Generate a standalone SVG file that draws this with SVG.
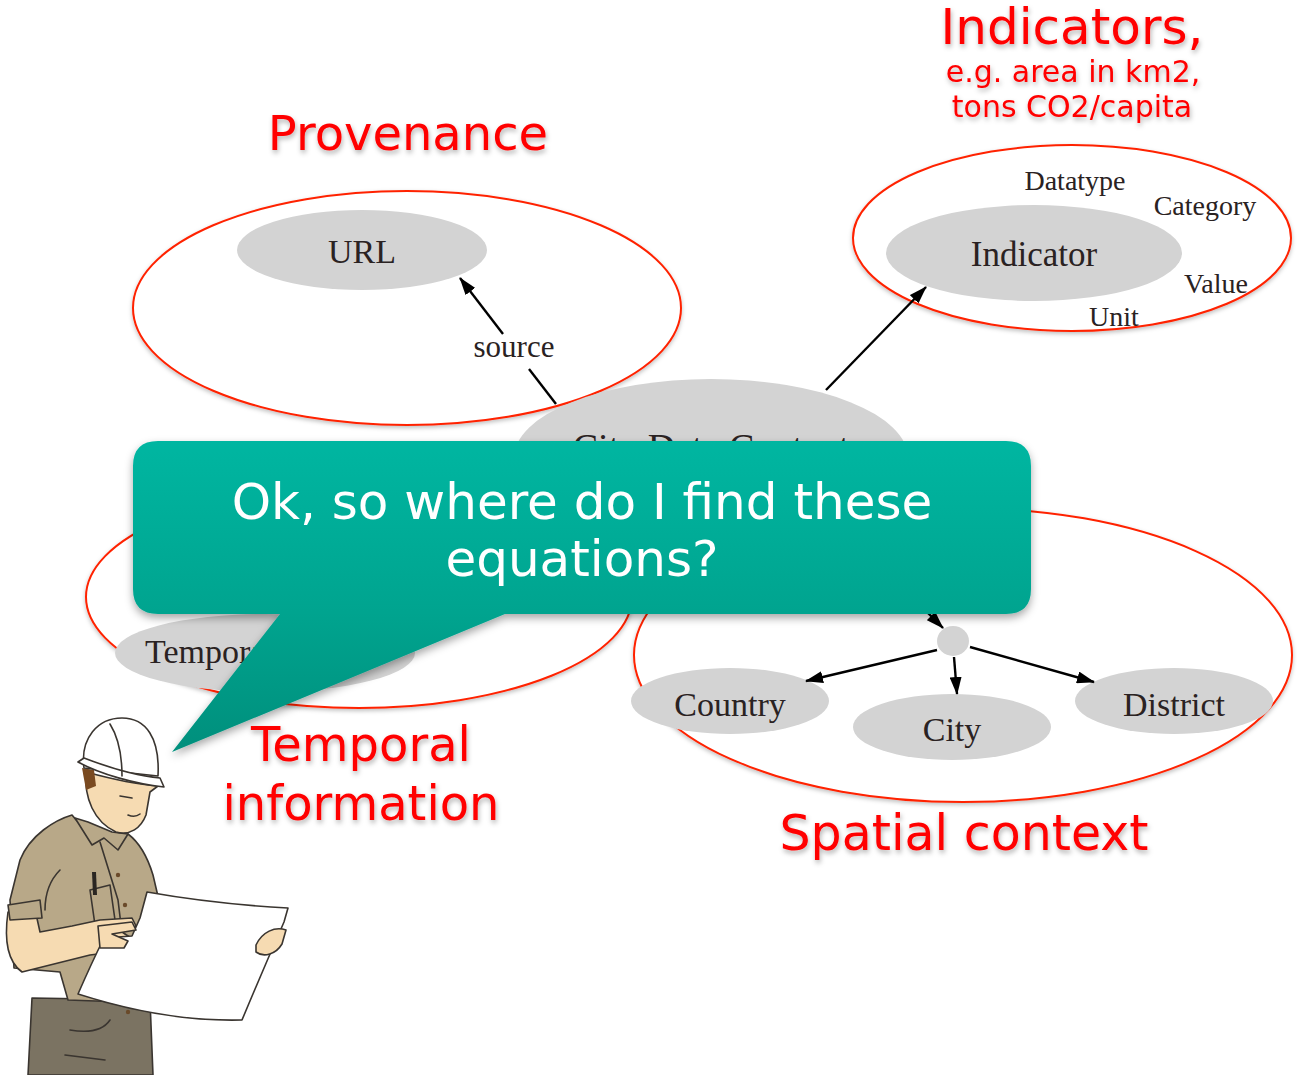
<svg xmlns="http://www.w3.org/2000/svg" width="1297" height="1075" viewBox="0 0 1297 1075">
  <defs>
    <style>
      .ctx { fill: #ffffff; stroke: #ff2200; stroke-width: 2; filter: url(#soft); }
      .node { fill: #d3d3d3; }
      .lbl { font-family: "Liberation Serif", "DejaVu Serif", serif; fill: #2a2222; text-anchor: middle; }
      .big { font-size: 34px; }
      .small { font-size: 28px; }
      .title { font-family: "DejaVu Sans", Verdana, sans-serif; fill: #ff0000; text-anchor: middle; filter: url(#tshadow); }
      .edge { stroke: #000000; stroke-width: 2.4; fill: none; }
      .ink { stroke: #3a3530; stroke-width: 1.6; stroke-linejoin: round; stroke-linecap: round; }
    </style>
    <marker id="arrow" viewBox="0 0 18 12" refX="17" refY="6" markerWidth="18" markerHeight="12" markerUnits="userSpaceOnUse" orient="auto">
      <path d="M0,0 L18,6 L0,12 Z" fill="#000000"/>
    </marker>
    <filter id="soft" x="-10%" y="-10%" width="120%" height="130%">
      <feDropShadow dx="0" dy="2" stdDeviation="2" flood-color="#000000" flood-opacity="0.25"/>
    </filter>
    <filter id="tshadow" x="-10%" y="-20%" width="120%" height="150%">
      <feDropShadow dx="1" dy="3" stdDeviation="2.5" flood-color="#000000" flood-opacity="0.3"/>
    </filter>
    <filter id="bubbleShadow" x="-10%" y="-10%" width="120%" height="140%">
      <feDropShadow dx="0" dy="4" stdDeviation="4" flood-color="#000000" flood-opacity="0.35"/>
    </filter>
    <linearGradient id="bubbleFill" x1="0" y1="441" x2="0" y2="752" gradientUnits="userSpaceOnUse">
      <stop offset="0" stop-color="#00b6a1"/>
      <stop offset="0.55" stop-color="#00a48f"/>
      <stop offset="1" stop-color="#008f7c"/>
    </linearGradient>
  </defs>

  <rect width="1297" height="1075" fill="#ffffff"/>

  <!-- context outlines -->
  <g id="ctx-provenance"><ellipse class="ctx" cx="407" cy="308" rx="274" ry="117"/></g>
  <g id="ctx-indicators"><ellipse class="ctx" cx="1072" cy="238" rx="219" ry="93"/></g>
  <g id="ctx-temporal"><ellipse class="ctx" cx="359" cy="597" rx="273" ry="111"/></g>
  <g id="ctx-spatial"><ellipse class="ctx" cx="963" cy="655" rx="329" ry="147"/></g>

  <!-- graph nodes -->
  <g id="node-url">
    <ellipse class="node" cx="362" cy="250" rx="125" ry="40"/>
    <text class="lbl big" x="362" y="263">URL</text>
  </g>
  <g id="node-citydata">
    <ellipse class="node" cx="711" cy="458" rx="197" ry="79"/>
    <text class="lbl" x="711" y="460" font-size="38">City Data Context</text>
  </g>
  <g id="node-indicator">
    <ellipse class="node" cx="1034" cy="253" rx="148" ry="48"/>
    <text class="lbl" x="1034" y="266" font-size="35">Indicator</text>
    <text class="lbl small" x="1075" y="190">Datatype</text>
    <text class="lbl small" x="1205" y="215">Category</text>
    <text class="lbl small" x="1216" y="293">Value</text>
    <text class="lbl small" x="1114" y="326">Unit</text>
  </g>
  <g id="node-temporal">
    <ellipse class="node" cx="265" cy="653" rx="150" ry="39"/>
    <text class="lbl big" x="145" y="663" style="text-anchor:start">Temporal</text>
  </g>
  <g id="node-join"><ellipse class="node" cx="953" cy="641" rx="16" ry="15"/></g>
  <g id="node-country">
    <ellipse class="node" cx="730" cy="701" rx="99" ry="33"/>
    <text class="lbl big" x="730" y="716">Country</text>
  </g>
  <g id="node-city">
    <ellipse class="node" cx="952" cy="727" rx="99" ry="33"/>
    <text class="lbl big" x="952" y="741">City</text>
  </g>
  <g id="node-district">
    <ellipse class="node" cx="1174" cy="701" rx="99" ry="33"/>
    <text class="lbl big" x="1174" y="716">District</text>
  </g>

  <!-- connectors -->
  <g id="connectors">
    <line class="edge" x1="556" y1="404" x2="529" y2="369"/>
    <line class="edge" x1="503" y1="334" x2="460" y2="278" marker-end="url(#arrow)"/>
    <text class="lbl" x="514" y="357" font-size="31">source</text>
    <line class="edge" x1="826" y1="390" x2="926" y2="287" marker-end="url(#arrow)"/>
    <line class="edge" x1="915" y1="600" x2="943" y2="628" marker-end="url(#arrow)"/>
    <line class="edge" x1="937" y1="650" x2="806" y2="681" marker-end="url(#arrow)"/>
    <line class="edge" x1="954" y1="657" x2="957" y2="694" marker-end="url(#arrow)"/>
    <line class="edge" x1="970" y1="647" x2="1094" y2="682" marker-end="url(#arrow)"/>
  </g>

  <!-- speech bubble -->
  <g id="bubble">
    <path d="M158,441 H1006 Q1031,441 1031,466 V589 Q1031,614 1006,614 H505 L172,752 L280,614 H158 Q133,614 133,589 V466 Q133,441 158,441 Z" fill="url(#bubbleFill)" filter="url(#bubbleShadow)"/>
    <text x="582" y="519" font-family="'DejaVu Sans', Verdana, sans-serif" font-size="50" fill="#ffffff" text-anchor="middle">Ok, so where do I find these</text>
    <text x="582" y="576" font-family="'DejaVu Sans', Verdana, sans-serif" font-size="50" fill="#ffffff" text-anchor="middle">equations?</text>
  </g>

  <!-- red captions -->
  <g id="captions">
    <text class="title" x="408" y="150" font-size="48">Provenance</text>
    <text class="title" x="1072" y="44" font-size="50">Indicators,</text>
    <text class="title" x="1073" y="82" font-size="30">e.g. area in km2,</text>
    <text class="title" x="1072" y="117" font-size="30">tons CO2/capita</text>
    <text class="title" x="361" y="761" font-size="48">Temporal</text>
    <text class="title" x="361" y="820" font-size="48">information</text>
    <text class="title" x="964" y="850" font-size="49">Spatial context</text>
  </g>

  <!-- worker reading a plan -->
  <g id="worker">
    <!-- trousers -->
    <path class="ink" d="M32,998 L150,1000 L153,1075 L28,1075 Z" fill="#7b7362"/>
    <path class="ink" d="M70,1030 Q100,1035 110,1020 M65,1055 L105,1060" fill="none"/>
    <!-- shirt -->
    <path class="ink" d="M72,815 C55,820 30,835 20,860 L10,900 L14,968 L60,972 L68,1000 L150,1003 L156,960 L160,905 L153,875 C146,852 136,840 128,834 L112,840 C96,836 82,828 72,815 Z" fill="#b8a888"/>
    <path class="ink" d="M100,842 L118,900 L130,1000 M90,890 L110,885 L115,920 L95,925 Z M60,870 C50,880 45,895 45,910" fill="none"/>
    <path d="M92,872 L96,872 L97,895 L93,895 Z" fill="#2a2622"/>
    <circle cx="118" cy="875" r="2.2" fill="#6a4a2a"/>
    <circle cx="125" cy="905" r="2.2" fill="#6a4a2a"/>
    <circle cx="128" cy="1012" r="2.2" fill="#6a4a2a"/>
    <!-- collar -->
    <path class="ink" d="M75,818 L92,845 L104,838 L118,850 L128,834 L112,832 L88,822 Z" fill="#b8a888"/>
    <!-- forearm and hand -->
    <path class="ink" d="M8,912 C4,940 8,962 22,972 L90,955 L130,950 L134,940 L122,932 L136,926 L132,918 L100,920 L72,926 L40,932 L36,914 Z" fill="#f6dbb2"/>
    <path class="ink" d="M8,905 L40,900 L42,918 L10,920 Z" fill="#b8a888"/>
    <!-- plan sheet -->
    <path class="ink" d="M147,892 Q215,904 288,908 L284,922 Q262,972 242,1020 Q165,1022 78,994 Q92,962 104,938 L132,936 L140,918 Z" fill="#ffffff"/>
    <!-- fingers over the sheet -->
    <path class="ink" d="M98,926 L132,922 L136,930 L112,934 L128,941 L124,948 L100,948 Z" fill="#f6dbb2"/>
    <!-- right hand -->
    <path class="ink" d="M256,945 C262,932 275,926 286,930 L282,944 C276,954 264,958 256,952 Z" fill="#f6dbb2"/>
    <!-- face -->
    <path class="ink" d="M86,772 C84,798 94,822 116,832 C130,836 141,828 146,815 L150,792 L158,786 C132,784 108,778 86,772 Z" fill="#f6dbb2"/>
    <path d="M82,768 L94,770 L96,786 L86,790 Z" fill="#7a4a20"/>
    <path class="ink" d="M120,796 L132,798 M128,815 Q135,818 140,814" fill="none"/>
    <!-- hard hat -->
    <path class="ink" d="M84,768 C80,738 98,718 122,718 C146,718 160,738 158,776 Z" fill="#ffffff"/>
    <path class="ink" d="M78,762 C100,774 135,784 164,787 L160,778 C138,776 110,768 84,758 Z" fill="#ffffff"/>
    <path class="ink" d="M110,724 C120,740 122,760 122,776" fill="none" stroke="#9a9a9a"/>
  </g>
</svg>
